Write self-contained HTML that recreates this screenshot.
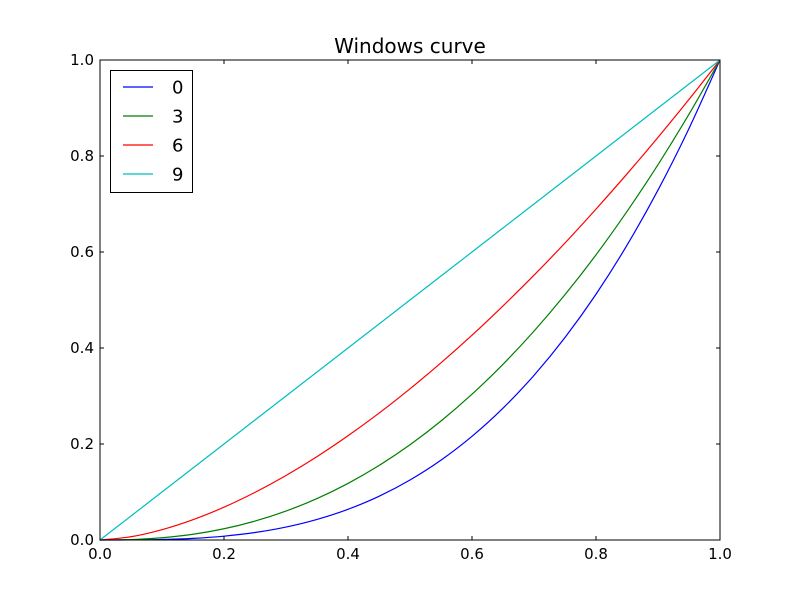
<!DOCTYPE html>
<html><head><meta charset="utf-8"><style>
body{margin:0;background:#fff;}
svg text{font-family:"DejaVu Sans","Liberation Sans",sans-serif;}
</style></head><body>
<svg id="chart" width="800" height="600" xmlns="http://www.w3.org/2000/svg">
<rect width="800" height="600" fill="#fff"/>
<text x="410" y="53" font-size="20" text-anchor="middle">Windows curve</text>
<g id="plot"></g>
</svg>
<script>
const xs=[0,0.05,0.1,0.15,0.2,0.25,0.3,0.35,0.4,0.45,0.5,0.55,0.6,0.65,0.7,0.75,0.8,0.85,0.9,0.95,1];
const s0=[0,0.000125,0.001,0.0034,0.008,0.0156,0.027,0.0429,0.064,0.0911,0.125,0.1664,0.216,0.2746,0.343,0.4219,0.512,0.6141,0.729,0.8574,1];
const s3=[0,0.00092,0.00464,0.01196,0.0234,0.0394,0.0603,0.0864,0.1179,0.1552,0.1984,0.2479,0.3037,0.3661,0.4351,0.5111,0.5941,0.6845,0.782,0.8872,1];
const s6=[0,0.00679,0.0215,0.0423,0.0684,0.0992,0.1344,0.1738,0.2172,0.2642,0.315,0.3691,0.4266,0.4877,0.5516,0.6188,0.6894,0.7626,0.8389,0.918,1];
const s9=[0,0.05,0.1,0.15,0.2,0.25,0.3,0.35,0.4,0.45,0.5,0.55,0.6,0.65,0.7,0.75,0.8,0.85,0.9,0.95,1];
const seriesNames=["0","3","6","9"];
const seriesColors=["#0000ff","#008000","#ff0000","#00bfbf"];
const tickVals=[0,0.2,0.4,0.6,0.8,1.0];
const tickLabels=["0.0","0.2","0.4","0.6","0.8","1.0"];
const L=100,R=720,T=60,B=540;
const X=v=>L+v*(R-L), Y=v=>B-v*(B-T);
const NS="http://www.w3.org/2000/svg";
const g=document.getElementById('plot');
function mk(t,a){const e=document.createElementNS(NS,t);for(const k in a)e.setAttribute(k,a[k]);g.appendChild(e);return e;}
function smooth(pts){
  let d='M'+pts[0][0].toFixed(2)+','+pts[0][1].toFixed(2);
  for(let i=0;i<pts.length-1;i++){
    const p0=pts[Math.max(0,i-1)],p1=pts[i],p2=pts[i+1],p3=pts[Math.min(pts.length-1,i+2)];
    const c1=[p1[0]+(p2[0]-p0[0])/6,p1[1]+(p2[1]-p0[1])/6];
    const c2=[p2[0]-(p3[0]-p1[0])/6,p2[1]-(p3[1]-p1[1])/6];
    d+='C'+c1[0].toFixed(2)+','+c1[1].toFixed(2)+' '+c2[0].toFixed(2)+','+c2[1].toFixed(2)+' '+p2[0].toFixed(2)+','+p2[1].toFixed(2);
  }
  return d;
}
const all=[s0,s3,s6,s9];
all.forEach((s,i)=>{
  const pts=s.map((v,j)=>[X(xs[j]),Y(v)]);
  const p=mk('path',{d:smooth(pts),fill:'none',stroke:seriesColors[i],'stroke-width':1.2});
  
  
});
const frame=mk('rect',{x:L,y:T,width:R-L,height:B-T,fill:'none',stroke:'#000','stroke-width':1});


tickVals.forEach((v,i)=>{
  mk('line',{x1:X(v),y1:B,x2:X(v),y2:B-4,stroke:'#000'});
  mk('line',{x1:X(v),y1:T,x2:X(v),y2:T+4,stroke:'#000'});
  mk('line',{x1:L,y1:Y(v),x2:L+4,y2:Y(v),stroke:'#000'});
  mk('line',{x1:R,y1:Y(v),x2:R-4,y2:Y(v),stroke:'#000'});
  const tx=mk('text',{x:X(v),y:B+19,'font-size':15,'text-anchor':'middle'});
  tx.textContent=tickLabels[i];
  
  
  const ty=mk('text',{x:L-6,y:Y(v)+5,'font-size':15,'text-anchor':'end'});
  ty.textContent=tickLabels[i];
  
  
});
const lg=mk('rect',{x:110.5,y:70.5,width:82,height:122,fill:'#fff',stroke:'#000'});


seriesNames.forEach((n,i)=>{
  const y=87+i*29;
  const ln=mk('line',{x1:123,y1:y,x2:153,y2:y,stroke:seriesColors[i],'stroke-width':1.2});
  
  
  const t=mk('text',{x:172,y:y+6.5,'font-size':18});
  t.textContent=n;
  
  
});
</script>
</body></html>
